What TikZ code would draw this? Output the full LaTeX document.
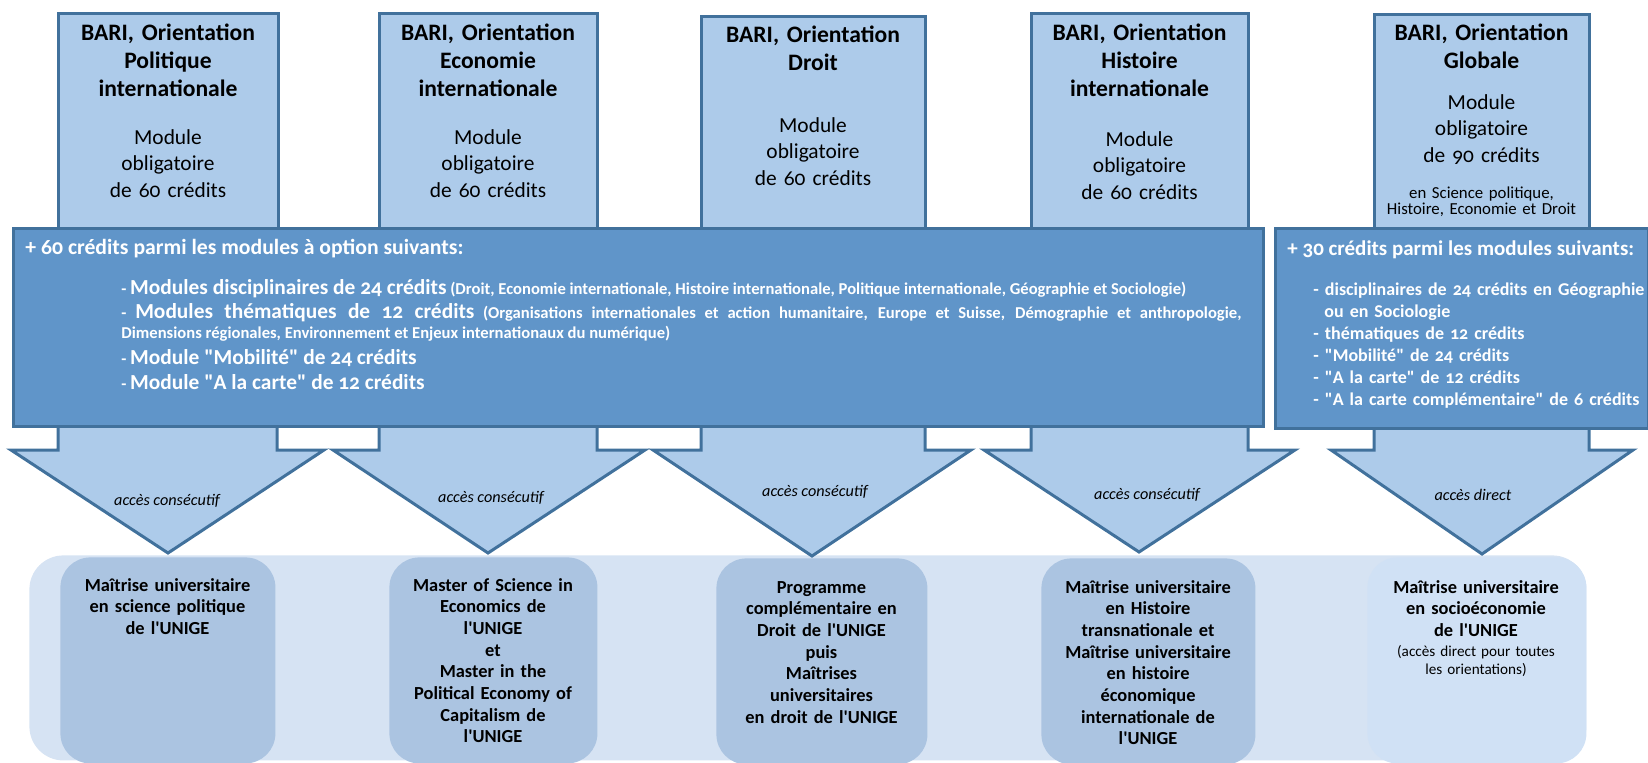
\documentclass[tikz,border=0pt]{standalone}
\usepackage{fontspec}
\setmainfont{Carlito}[Numbers=OldStyle, Ligatures=TeXOff]

\definecolor{bordc}{RGB}{65,113,156}
\definecolor{lightb}{RGB}{173,203,234}
\definecolor{midb}{RGB}{96,149,201}
\definecolor{bgb}{RGB}{214,227,243}
\definecolor{innerb}{RGB}{171,196,225}
\definecolor{innerc}{RGB}{208,225,245}

\newcommand{\ap}{'}
\newcommand{\bigitem}[1]{{\fontsize{10.7}{10}\selectfont #1}}

\begin{document}
\begin{tikzpicture}[x=0.5pt, y=-0.5pt,
	orient/.style = {draw=bordc, fill=lightb, line width=1.5pt, anchor=north, inner sep=0pt},
	orienttitle/.style = {anchor=base, text width=100pt, align=center, font=\fontsize{11.8}{14}\selectfont\bfseries},
	orientmod/.style = {anchor=base, text width=100pt, align=center, font=\fontsize{10.7}{13.25}\selectfont},
	orientnote/.style = {anchor=base, text width=104pt, align=center, font=\fontsize{8.4}{8.4}\selectfont},
	optbox/.style = {draw=bordc, fill=midb, line width=1.5pt, anchor=north west, inner sep=0pt},
	opthead/.style = {anchor=base west, inner sep=0pt, text=white, font=\fontsize{10.85}{13}\selectfont\bfseries},
	optitem/.style = {anchor=base west, inner sep=0pt, text=white, font=\fontsize{8.3}{10}\selectfont\bfseries},
	flow/.style = {draw=bordc, fill=lightb, line width=1.5pt, line join=miter},
	access/.style = {anchor=base, font=\fontsize{8.1}{10}\selectfont\itshape},
	destbg/.style = {fill=bgb, rounded corners=17pt, anchor=north west, inner sep=0pt},
	dest/.style = {fill=innerb, rounded corners=15pt, anchor=north west, inner sep=0pt, minimum height=103pt},
	desttext/.style = {anchor=base, text width=104pt, align=center, font=\fontsize{9.2}{10.85}\selectfont\bfseries},
	destnote/.style = {anchor=base, text width=104pt, align=center, font=\fontsize{7.6}{9}\selectfont}]
	\useasboundingbox (0,0) rectangle (1648,762);

	\node[destbg, minimum width=778.5pt, minimum height=102.5pt] (dest) at (29,555) {};
	\node[dest, minimum width=107.5pt] (m1) at (60,557) {};
	\node[dest, minimum width=104pt] (m2) at (389,557) {};
	\node[dest, minimum width=105.5pt] (m3) at (716,558) {};
	\node[dest, minimum width=107pt] (m4) at (1041,558) {};
	\node[dest, fill=innerc, minimum width=109.5pt] (m5) at (1367,557) {};
	\node[desttext] (d1) at (167.5,591) {Maîtrise universitaire\\ en science politique\\ de l\ap UNIGE};
	\node[desttext] (d2) at (493,591) {Master of Science in\\ Economics de\\ l\ap UNIGE\\ et\\ Master in the\\ Political Economy of\\ Capitalism de\\ l\ap UNIGE};
	\node[desttext] (d3) at (821.5,593) {Programme\\ complémentaire en\\ Droit de l\ap UNIGE\\ puis\\ Maîtrises\\ universitaires\\ en droit de l\ap UNIGE};
	\node[desttext] (d4) at (1148,593) {Maîtrise universitaire\\ en Histoire\\ transnationale et\\ Maîtrise universitaire\\ en histoire\\ économique\\ internationale de\\ l\ap UNIGE};
	\node[desttext] (d5) at (1476,593) {Maîtrise universitaire\\ en socioéconomie\\ de l\ap UNIGE};
	\node[destnote] (n5) at (1476,656) {(accès direct pour toutes\\ les orientations)};

	\node[orient, minimum width=110pt, minimum height=114pt] (o1) at (168,12) {};
	\node[orient, minimum width=109pt, minimum height=114pt] (o2) at (488,12) {};
	\node[orient, minimum width=112pt, minimum height=112.5pt] (o3) at (813,15) {};
	\node[orient, minimum width=108.5pt, minimum height=114pt] (o4) at (1139.5,12) {};
	\node[orient, minimum width=107.5pt, minimum height=113.5pt] (o5) at (1481.5,13) {};
	\node[orienttitle] (t1) at (168,40) {BARI, Orientation\\ Politique\\ internationale};
	\node[orientmod] (c1) at (168,144) {Module\\ obligatoire\\ de 60 crédits};
	\node[orienttitle] (t2) at (488,40) {BARI, Orientation\\ Economie\\ internationale};
	\node[orientmod] (c2) at (488,144) {Module\\ obligatoire\\ de 60 crédits};
	\node[orienttitle] (t3) at (813,42) {BARI, Orientation\\ Droit};
	\node[orientmod] (c3) at (813,132) {Module\\ obligatoire\\ de 60 crédits};
	\node[orienttitle] (t4) at (1139.5,40) {BARI, Orientation\\ Histoire\\ internationale};
	\node[orientmod] (c4) at (1139.5,146) {Module\\ obligatoire\\ de 60 crédits};
	\node[orienttitle] (t5) at (1481.5,40) {BARI, Orientation\\ Globale};
	\node[orientmod] (c5) at (1481.5,109) {Module\\ obligatoire\\ de 90 crédits};
	\node[orientnote] (s5) at (1481.5,198) {en Science politique,\\ Histoire, Economie et Droit};

	\draw[flow] (58,415) -- (58,450) -- (11,450) -- (168,553) -- (324,450) -- (277,450) -- (277,415) -- cycle;
	\draw[flow] (379,415) -- (379,450) -- (333,450) -- (488,553) -- (645,450) -- (597,450) -- (597,415) -- cycle;
	\draw[flow] (701,415) -- (701,450) -- (653,450) -- (812,556) -- (971,450) -- (925,450) -- (925,415) -- cycle;
	\draw[flow] (1031,415) -- (1031,450) -- (984,450) -- (1139,552) -- (1295,450) -- (1248,450) -- (1248,415) -- cycle;
	\draw[flow] (1374,415) -- (1374,450) -- (1331,450) -- (1482,554) -- (1633,450) -- (1589,450) -- (1589,415) -- cycle;
	\node[access] (a1) at (167,505) {accès consécutif};
	\node[access] (a2) at (491,502) {accès consécutif};
	\node[access] (a3) at (815,496) {accès consécutif};
	\node[access] (a4) at (1147,499) {accès consécutif};
	\node[access] (a5) at (1473,500) {accès direct};

	\node[optbox, minimum width=625pt, minimum height=99pt] (opt) at (12,227) {};
	\node[optbox, minimum width=186.5pt, minimum height=100pt] (optg) at (1274,227) {};
	\node[opthead] (h1) at (25,254) {+ 60 crédits parmi les modules à option suivants:};
	\node[optitem] (i1) at (121,294) {- \bigitem{Modules disciplinaires de 24 crédits} (Droit, Economie internationale, Histoire internationale, Politique internationale, Géographie et Sociologie)};
	\node[optitem, text width=560pt, align=justify] (i2) at (121,318) {\hangindent=6.5pt\hangafter=1 - \bigitem{Modules thématiques de 12 crédits} (Organisations internationales et action humanitaire, Europe et Suisse, Démographie et anthropologie,\linebreak Dimensions régionales, Environnement et Enjeux internationaux du numérique)};
	\node[optitem] (i3) at (121,364) {- \bigitem{Module "Mobilité" de 24 crédits}};
	\node[optitem] (i4) at (121,389) {- \bigitem{Module "A la carte" de 12 crédits}};
	\node[opthead, font=\fontsize{10.5}{13}\selectfont\bfseries] (h2) at (1287,255) {+ 30 crédits parmi les modules suivants:};
	\node[optitem, text width=180pt, align=left, font=\fontsize{9}{11}\selectfont\bfseries] (g1) at (1313,295) {- disciplinaires de 24 crédits en Géographie\\ \hspace*{5.5pt}ou en Sociologie\\ - thématiques de 12 crédits\\ - "Mobilité" de 24 crédits\\ - "A la carte" de 12 crédits\\ - "A la carte complémentaire" de 6 crédits};
\end{tikzpicture}
\end{document}
